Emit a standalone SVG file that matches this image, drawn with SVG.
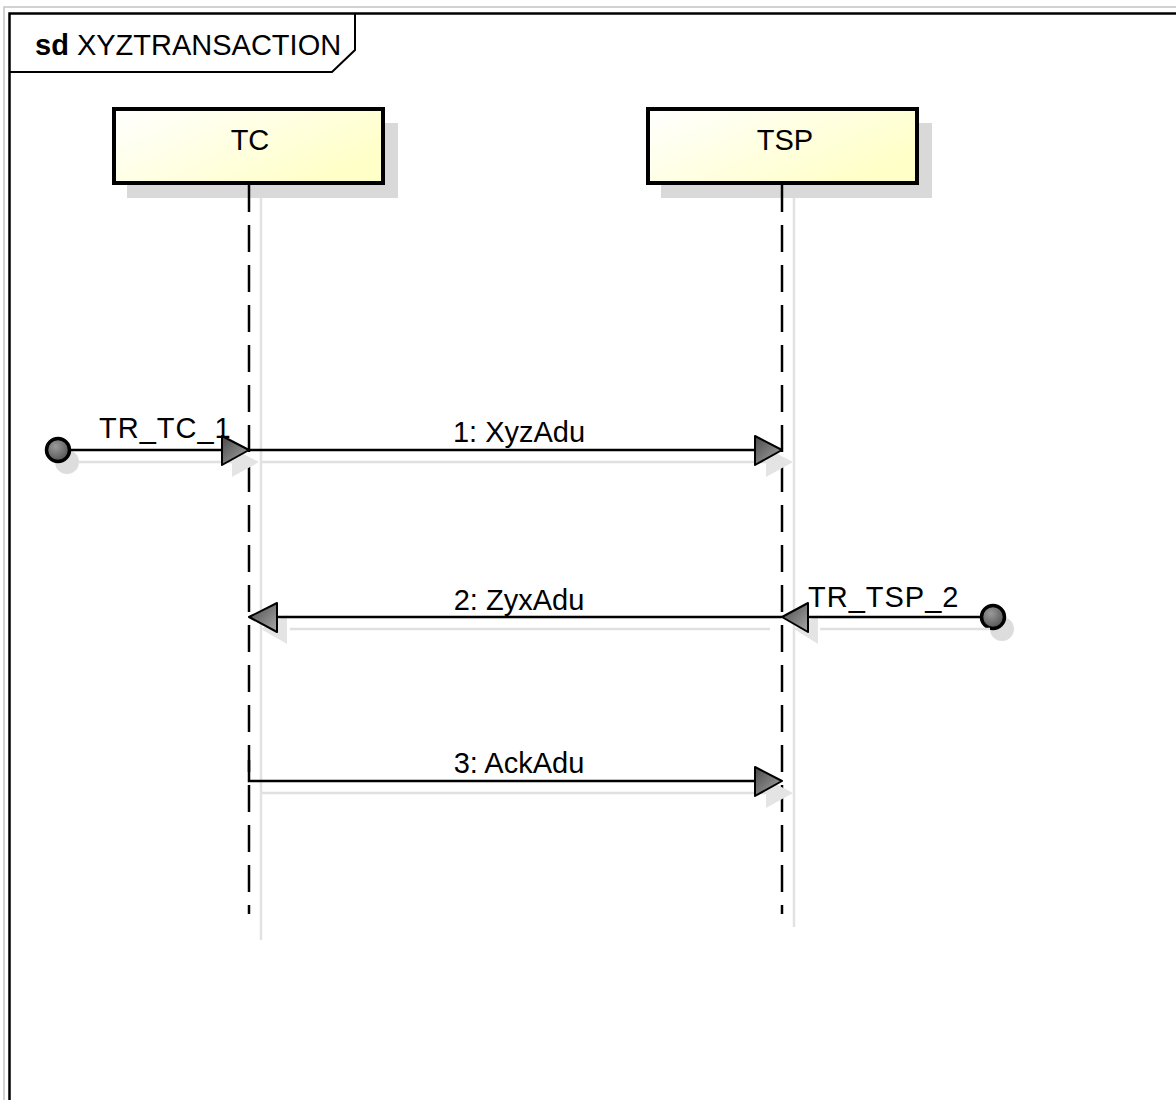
<svg xmlns="http://www.w3.org/2000/svg" width="1176" height="1100" viewBox="0 0 1176 1100">
<style>
text{font-family:"Liberation Sans",Arial,sans-serif;font-size:29px;fill:#000}
.box{stroke:#000;stroke-width:4;fill:url(#lg)}
.shadow{fill:#d9d9d9}
.life{stroke:#000;stroke-width:2.5;stroke-dasharray:27 13;fill:none}
.lifesh{stroke:#e2e2e2;stroke-width:2.5;fill:none}
.msg{stroke:#000;stroke-width:2.5;fill:none}
.msgsh{stroke:#e0e0e0;stroke-width:2.5;fill:none}
.head{fill:url(#hg);stroke:#000;stroke-width:2;stroke-linejoin:round}
.headsh{fill:#e4e4e4}
.gate{fill:url(#cg);stroke:#000;stroke-width:3.5}
.gatesh{fill:#dddddd}
</style>
<defs>
<linearGradient id="lg" x1="0" y1="0" x2="1" y2="0.6">
<stop offset="0" stop-color="#ffffff"/>
<stop offset="1" stop-color="#ffffc8"/>
</linearGradient>
<linearGradient id="hg" x1="0" y1="0" x2="1" y2="1">
<stop offset="0" stop-color="#4a4a4a"/>
<stop offset="1" stop-color="#a8a8a8"/>
</linearGradient>
<radialGradient id="cg" cx="0.4" cy="0.35" r="0.7">
<stop offset="0" stop-color="#9a9a9a"/>
<stop offset="1" stop-color="#505050"/>
</radialGradient>
</defs>
<rect width="1176" height="1100" fill="#fff"/>
<g id="frame">
<rect x="4" y="7" width="1200" height="1200" fill="none" stroke="#c4c4c4" stroke-width="1.5"/>
<path d="M9.5 1110 V13.5 H1190" fill="none" stroke="#000" stroke-width="2.5"/>
<path d="M9.5 72 H332 L355 50 V13.5" fill="none" stroke="#000" stroke-width="2"/>
<text x="35" y="55"><tspan font-weight="bold">sd</tspan> XYZTRANSACTION</text>
</g>
<g id="lifeline-TC">
<rect class="shadow" x="127" y="123" width="271" height="75"/>
<line class="lifesh" x1="261" y1="198" x2="261" y2="940"/>
<rect class="box" x="114" y="109" width="269" height="74"/>
<text x="250" y="150" text-anchor="middle">TC</text>
<line class="life" x1="249" y1="185" x2="249" y2="914"/>
</g>
<g id="lifeline-TSP">
<rect class="shadow" x="661" y="123" width="271" height="75"/>
<line class="lifesh" x1="794" y1="198" x2="794" y2="927"/>
<rect class="box" x="648" y="109" width="269" height="74"/>
<text x="785" y="150" text-anchor="middle">TSP</text>
<line class="life" x1="782" y1="185" x2="782" y2="914"/>
</g>
<g id="gate-TR_TC_1">
<circle class="gatesh" cx="67" cy="462" r="12"/>
<circle class="gate" cx="58" cy="450" r="11.5"/>
</g>
<g id="gate-TR_TSP_2">
<circle class="gatesh" cx="1002" cy="629" r="12"/>
<circle class="gate" cx="993" cy="617" r="11.5"/>
</g>
<g id="connectors">
<!-- TR_TC_1 -->
<line class="msgsh" x1="78" y1="462" x2="232" y2="462"/>
<polygon class="headsh" points="232,448 259,462 232,477"/>
<line class="msg" x1="70" y1="450" x2="240" y2="450"/>
<polygon class="head" points="222,436 249,450 222,465"/>
<text x="99" y="438" letter-spacing="1">TR_TC_1</text>
<!-- 1: XyzAdu -->
<line class="msgsh" x1="262" y1="462" x2="766" y2="462"/>
<polygon class="headsh" points="766,448 793,462 766,477"/>
<line class="msg" x1="249" y1="450" x2="772" y2="450"/>
<polygon class="head" points="755,436 782,450 755,465"/>
<text x="519" y="442" text-anchor="middle">1: XyzAdu</text>
<!-- TR_TSP_2 -->
<line class="msgsh" x1="820" y1="629" x2="990" y2="629"/>
<polygon class="headsh" points="818,615 794,629 818,644"/>
<line class="msg" x1="981" y1="617" x2="792" y2="617"/>
<polygon class="head" points="808,603 782,617 808,632"/>
<text x="808" y="607" letter-spacing="1">TR_TSP_2</text>
<!-- 2: ZyxAdu -->
<line class="msgsh" x1="290" y1="629" x2="770" y2="629"/>
<polygon class="headsh" points="287,615 261,629 287,644"/>
<line class="msg" x1="782" y1="617" x2="259" y2="617"/>
<polygon class="head" points="277,603 249,617 277,632"/>
<text x="519" y="610" text-anchor="middle">2: ZyxAdu</text>
<!-- 3: AckAdu -->
<line class="msgsh" x1="262" y1="793" x2="766" y2="793"/>
<polygon class="headsh" points="766,779 793,793 766,808"/>
<path class="msg" d="M249 760 V781 H772"/>
<polygon class="head" points="755,767 782,781 755,796"/>
<text x="519" y="773" text-anchor="middle">3: AckAdu</text>
</g>
</svg>
